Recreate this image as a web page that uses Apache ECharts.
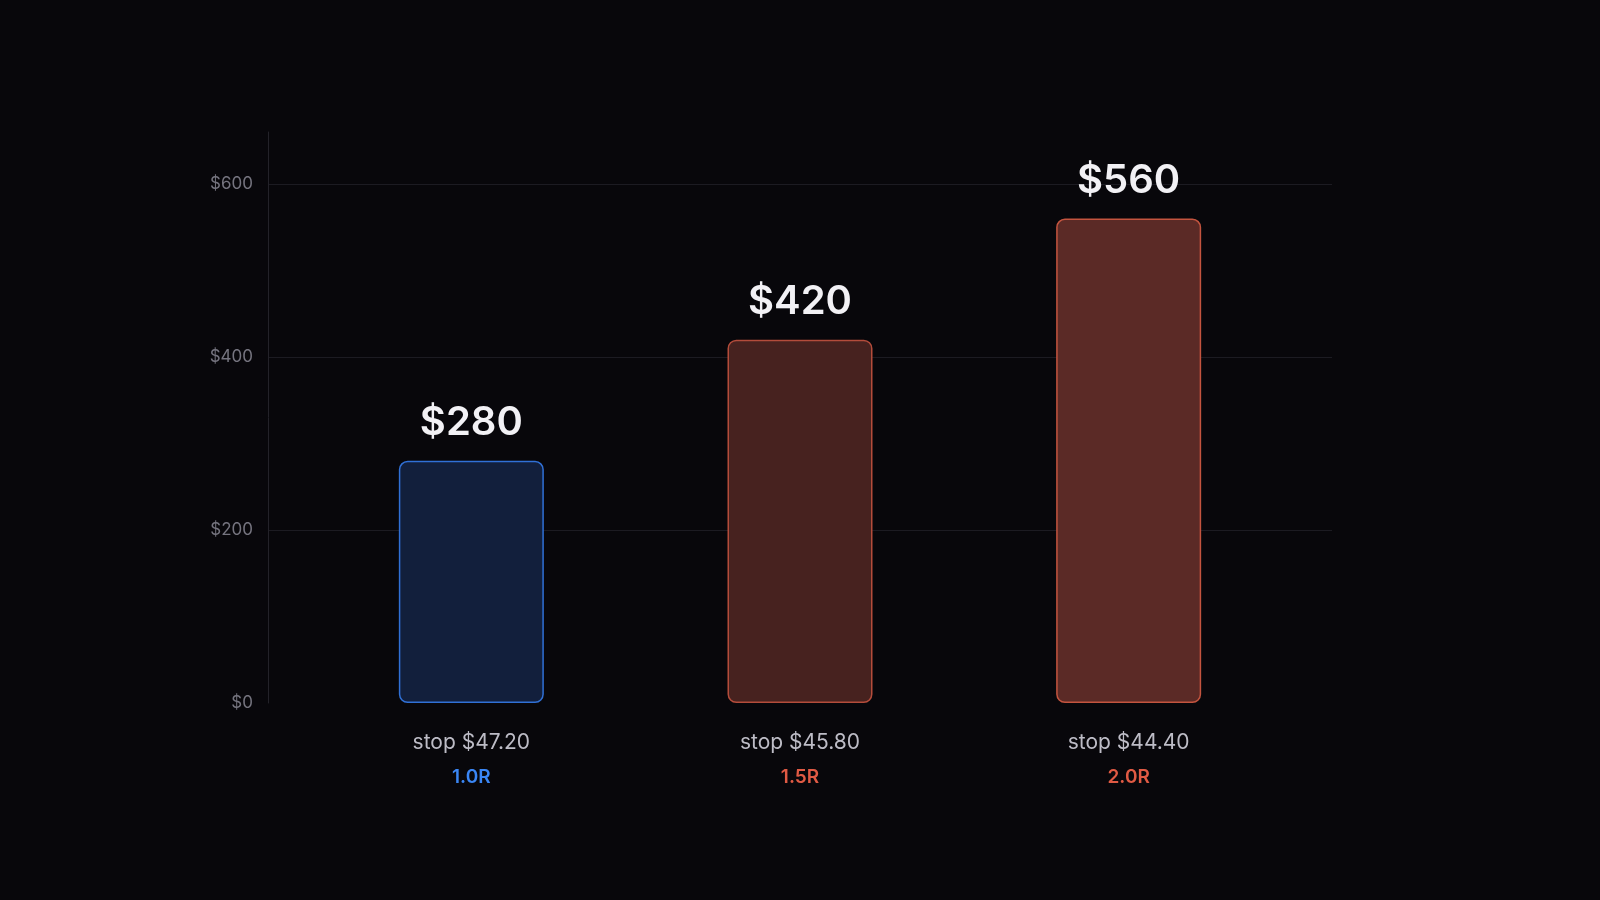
<!DOCTYPE html>
<html>
<head>
<meta charset="utf-8">
<script src="https://cdn.jsdelivr.net/npm/echarts@6/dist/echarts.min.js"></script>
<style>
  html, body { margin: 0; padding: 0; background: #08070b; }
  #chart { width: 1600px; height: 900px; }
</style>
</head>
<body>
<div id="chart"></div>
<script>
// data
const stops = ['$47.20', '$45.80', '$44.40'];
const rMultiples = ['1.0R', '1.5R', '2.0R'];
const profits = [280, 420, 560];
const yTicks = [0, 200, 400, 600];

const barStyles = [
    { color: '#121f3c', borderColor: '#3070d6' },
    { color: '#47221f', borderColor: '#b44c3b' },
    { color: '#5b2a26', borderColor: '#c4543f' }
];

const chart = echarts.init(document.getElementById('chart'));

chart.setOption({
    backgroundColor: '#08070b',
    textStyle: { fontFamily: 'Inter, "Noto Sans", sans-serif' },
    grid: [
        // wide grid: axis line and grid lines
        { left: 268, right: 268, top: 132, bottom: 197 },
        // inner grid: bars
        { left: 307, right: 307, top: 132, bottom: 197 }
    ],
    xAxis: [
        { gridIndex: 0, type: 'value', show: false, min: 0, max: 1 },
        {
            gridIndex: 1,
            type: 'category',
            data: rMultiples,
            axisLine: { show: false },
            axisTick: { show: false },
            axisLabel: {
                margin: 24,
                formatter: function (value, idx) {
                    const style = idx === 0 ? 'blue' : 'red';
                    return '{stop|stop ' + stops[idx] + '}\n{' + style + '|' + value + '}';
                },
                rich: {
                    stop: { fontSize: 21, color: '#bdbcc6', lineHeight: 32, fontFamily: 'Inter' },
                    blue: { fontSize: 19, fontWeight: 600, color: '#3a86f5', lineHeight: 36, fontFamily: 'Inter' },
                    red: { fontSize: 19, fontWeight: 600, color: '#e05a44', lineHeight: 36, fontFamily: 'Inter' }
                }
            }
        }
    ],
    yAxis: [
        {
            gridIndex: 0,
            type: 'value',
            min: 0,
            max: 660,
            interval: 200,
            axisLine: { show: true, lineStyle: { color: '#232229', width: 1 } },
            axisTick: { show: false },
            axisLabel: {
                margin: 15,
                color: '#75747f',
                fontSize: 17,
                showMaxLabel: false,
                formatter: function (v) {
                    return yTicks.indexOf(v) >= 0 ? '$' + v : '';
                }
            },
            splitLine: {
                show: true,
                showMinLine: false,
                showMaxLine: false,
                lineStyle: { color: '#1c1b22', width: 1 }
            }
        },
        { gridIndex: 1, type: 'value', min: 0, max: 660, show: false }
    ],
    series: [
        {
            type: 'bar',
            xAxisIndex: 1,
            yAxisIndex: 1,
            barWidth: 145,
            data: profits.map(function (v, i) {
                return {
                    value: v,
                    itemStyle: {
                        color: barStyles[i].color,
                        borderColor: barStyles[i].borderColor,
                        borderWidth: 1.5,
                        borderRadius: 8
                    }
                };
            }),
            label: {
                show: true,
                position: 'top',
                distance: 18,
                fontSize: 40,
                fontWeight: 600,
                lineHeight: 40,
                color: '#f2f1f5',
                fontFamily: 'Inter',
                formatter: function (p) { return '$' + p.value; }
            },
            silent: true
        }
    ]
});
</script>
</body>
</html>
